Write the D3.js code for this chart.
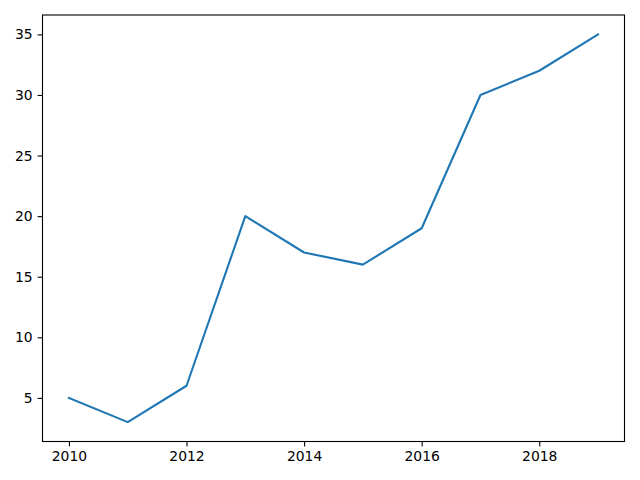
<!DOCTYPE html>
<html>
<head>
<meta charset="utf-8">
<script src="https://cdn.jsdelivr.net/npm/d3@7"></script>
<style>
  body { margin: 0; background: #fff; }
  .axis text { font-family: "DejaVu Sans", sans-serif; font-size: 13.9px; fill: #000; }
  .axis path, .axis line { stroke: #000; stroke-width: 1.1px; }
</style>
</head>
<body>
<div id="chart"></div>
<script>
const years = [2010, 2011, 2012, 2013, 2014, 2015, 2016, 2017, 2018, 2019];
const values = [5, 3, 6, 20, 17, 16, 19, 30, 32, 35];
const xTicks = [2010, 2012, 2014, 2016, 2018];
const yTicks = [5, 10, 15, 20, 25, 30, 35];

const W = 640, H = 480;
const margin = { top: 15, right: 15.5, bottom: 38.5, left: 42.5 };
const width = W - margin.left - margin.right;
const height = H - margin.top - margin.bottom;

const data = years.map((y, i) => ({ year: y, value: values[i] }));

// matplotlib style 5% padding on both axes
const xPad = (d3.max(years) - d3.min(years)) * 0.05;
const yPad = (d3.max(values) - d3.min(values)) * 0.05;

const x = d3.scaleLinear()
  .domain([d3.min(years) - xPad, d3.max(years) + xPad])
  .range([0, width]);

const y = d3.scaleLinear()
  .domain([d3.min(values) - yPad, d3.max(values) + yPad])
  .range([height, 0]);

const svg = d3.select("#chart")
  .append("svg")
  .attr("width", W)
  .attr("height", H)
  .append("g")
  .attr("transform", `translate(${margin.left},${margin.top})`);

svg.append("path")
  .datum(data)
  .attr("fill", "none")
  .attr("stroke", "#1f77b4")
  .attr("stroke-width", 2.1)
  .attr("stroke-linejoin", "round")
  .attr("stroke-linecap", "square")
  .attr("d", d3.line().x(d => x(d.year)).y(d => y(d.value)));

// x axis
svg.append("g")
  .attr("class", "axis")
  .attr("transform", `translate(0,${height})`)
  .call(d3.axisBottom(x).tickValues(xTicks).tickFormat(d3.format("d")).tickSizeOuter(0).tickSize(4.9).tickPadding(4.9))
  .call(g => g.select(".domain").remove())
  .selectAll("text").attr("dy", "0.71em");

// y axis
svg.append("g")
  .attr("class", "axis")
  .call(d3.axisLeft(y).tickValues(yTicks).tickSizeOuter(0).tickSize(4.9).tickPadding(4.9))
  .call(g => g.select(".domain").remove());

// frame
svg.append("rect")
  .attr("width", width)
  .attr("height", height)
  .attr("fill", "none")
  .attr("stroke", "#000")
  .attr("stroke-width", 1.1);
</script>
</body>
</html>
